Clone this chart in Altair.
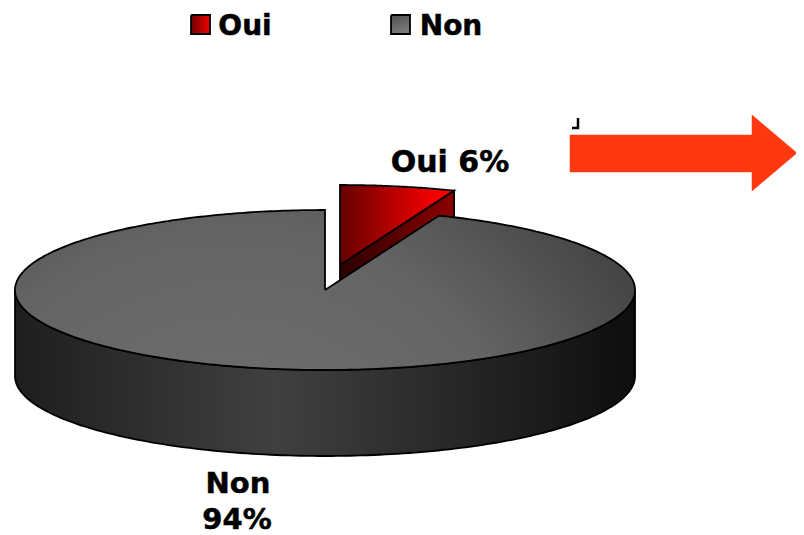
import math
import altair as alt
import pandas as pd

# chart values
categories = ["Oui", "Non"]
shares = [6, 94]
slice_labels = ["Oui 6%", "Non", "94%"]

# layout of the drawing (screen pixels)
CX, CY, RX, RY, DEPTH = 325, 290, 310, 80, 86
EXPLODE = (15, -25)
W, H = 788, 527
FONT = "DejaVu Sans"

xs = alt.Scale(domain=[8, 8 + W], nice=False, zero=False)
ys = alt.Scale(domain=[8 + H, 8], nice=False, zero=False)


def rim(a0, a1, dx=0, dy=0, n=160):
    """Points on the pie's rim; angles in percent of the pie, clockwise from 12 o'clock."""
    out = []
    for k in range(n + 1):
        t = (a0 + (a1 - a0) * k / n) / 100 * 2 * math.pi
        out.append((CX + dx + RX * math.sin(t), CY + dy - RY * math.cos(t)))
    return out


def poly(pts, fill, stroke="black", sw=1.8):
    pts = list(pts) + [pts[0]]
    df = pd.DataFrame({"x": [p[0] for p in pts], "y": [p[1] for p in pts], "i": range(len(pts))})
    return alt.Chart(df).mark_line(fill=fill, stroke=stroke, strokeWidth=sw, strokeJoin="miter", clip=False).encode(
        x=alt.X("x:Q", scale=xs, axis=None),
        y=alt.Y("y:Q", scale=ys, axis=None),
        order=alt.Order("i:Q"),
    )


def linear(stops, x2=1.0, y2=0.0):
    return alt.LinearGradient(
        gradient="linear", x1=0, y1=0, x2=x2, y2=y2,
        stops=[alt.GradientStop(offset=o, color=c) for o, c in stops],
    )


def label(text, x, y, size=28):
    df = pd.DataFrame({"x": [x], "y": [y], "t": [text]})
    return alt.Chart(df).mark_text(
        font=FONT, fontWeight="bold", fontSize=size, color="black",
        stroke="black", strokeWidth=0.5, align="center", baseline="middle",
    ).encode(
        x=alt.X("x:Q", scale=xs, axis=None),
        y=alt.Y("y:Q", scale=ys, axis=None),
        text="t:N",
    )


oui, non = shares
ex, ey = EXPLODE

# exploded "Oui" slice: cut face, then top
oui_rim = rim(0, oui, ex, ey, 40)
tip = (CX + ex, CY + ey)
end = oui_rim[-1]
oui_face = poly(
    [tip, end, (end[0], end[1] + DEPTH), (tip[0], tip[1] + DEPTH)],
    linear([(0, "#2a0000"), (1, "#8c0000")]),
)
oui_top = poly([tip] + oui_rim, linear([(0, "#660000"), (0.8, "#f00000"), (1, "#ff0000")]))

# "Non" slice: side wall, then top
front = rim(25, 75)
non_wall = poly(
    front + [(p[0], p[1] + DEPTH) for p in reversed(front)],
    linear([(0, "#1e1e1e"), (0.42, "#404040"), (1, "#0e0e0e")]),
)
non_top = poly(
    [(CX, CY)] + rim(oui, 100, n=400),
    alt.RadialGradient(
        gradient="radial", x1=0.35, y1=0.9, r1=0, x2=0.35, y2=0.9, r2=1.0,
        stops=[
            alt.GradientStop(offset=0, color="#747474"),
            alt.GradientStop(offset=0.5, color="#646464"),
            alt.GradientStop(offset=0.75, color="#464646"),
            alt.GradientStop(offset=1, color="#525252"),
        ],
    ),
)

# legend
swatch_oui = poly([(191, 15), (210, 15), (210, 34), (191, 34)], linear([(0, "#700000"), (1, "#f00000")]))
swatch_non = poly([(391, 15), (410, 15), (410, 34), (391, 34)], linear([(0, "#505050"), (1, "#7a7a7a")], x2=0.3, y2=1.0))

# arrow and corner tick
arrow = poly(
    [(570, 135), (752, 135), (752, 115), (797, 153), (752, 191), (752, 172), (570, 172)],
    "#FF3810", stroke="#FF3810", sw=0.5,
)
corner_df = pd.DataFrame({"x": [572, 578, 578], "y": [128, 128, 118], "i": [0, 1, 2]})
corner = alt.Chart(corner_df).mark_line(color="black", strokeWidth=2.5).encode(
    x=alt.X("x:Q", scale=xs, axis=None),
    y=alt.Y("y:Q", scale=ys, axis=None),
    order=alt.Order("i:Q"),
)

chart = alt.layer(
    oui_face, oui_top, non_wall, non_top,
    swatch_oui, swatch_non,
    label(categories[0], 245, 27), label(categories[1], 451, 27),
    label(slice_labels[0], 450, 163, 30),
    label(slice_labels[1], 238, 484, 29), label(slice_labels[2], 237, 520, 29),
    arrow, corner,
).properties(width=W, height=H, padding=0, autosize=alt.AutoSizeParams(type="none")).configure_view(stroke=None)

chart.save("out.html", embed_options={"renderer": "svg", "actions": False})
